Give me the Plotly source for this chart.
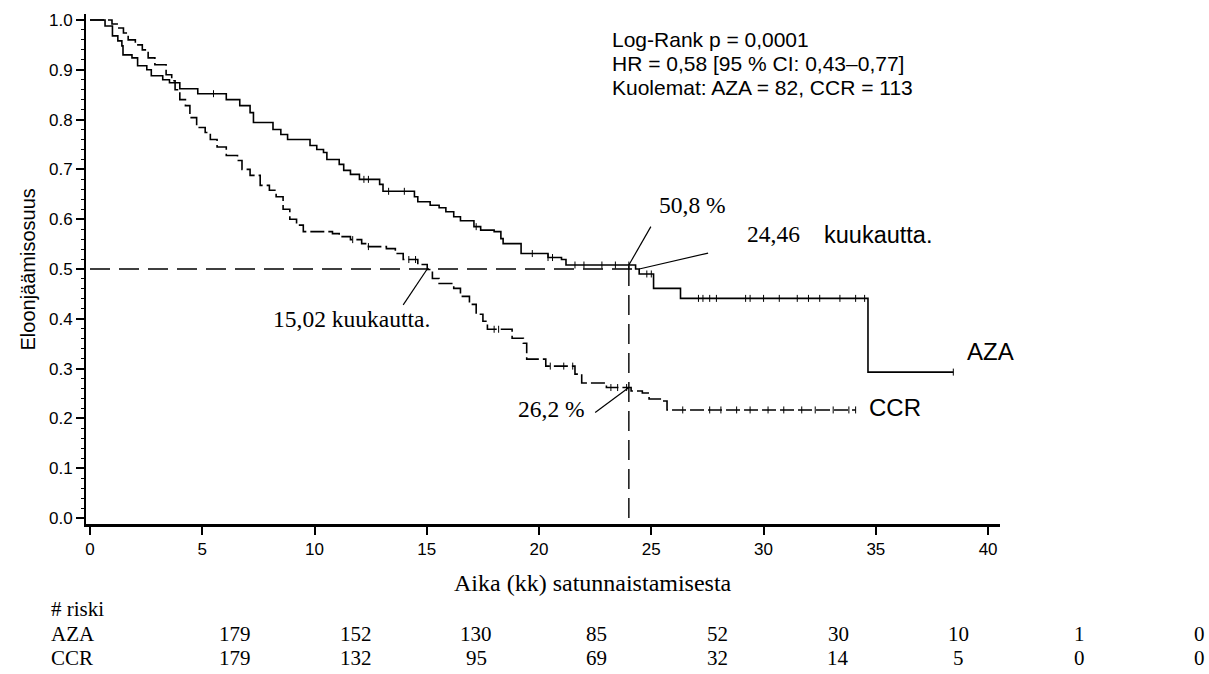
import numpy as np
import plotly.graph_objects as go

# ---------------- data ----------------
aza_t = [0, 0.67, 1.0, 1.24, 1.42, 1.47, 1.87, 2.12, 2.53, 2.73,
         3.24, 3.54, 4.0, 4.8, 6.07, 6.67, 7.13, 7.28, 8.15, 8.5,
         8.8, 9.8, 10.1, 10.4, 10.55, 11.1, 11.3, 11.6, 12.0, 12.9,
         13.05, 14.45, 14.6, 15.15, 15.55, 15.85, 16.2, 16.5, 17.1, 17.4,
         18.0, 18.3, 18.4, 19.2, 20.4, 21.0, 21.2, 24.3, 24.46, 25.1,
         26.3, 34.65]
aza_s = [1.0, 0.988, 0.968, 0.958, 0.948, 0.93, 0.924, 0.908, 0.90, 0.888,
         0.88, 0.874, 0.862, 0.852, 0.84, 0.828, 0.814, 0.794, 0.78, 0.77,
         0.76, 0.748, 0.74, 0.734, 0.72, 0.71, 0.698, 0.69, 0.68, 0.67,
         0.656, 0.645, 0.635, 0.628, 0.623, 0.615, 0.605, 0.597, 0.585, 0.578,
         0.575, 0.561, 0.551, 0.531, 0.523, 0.519, 0.508, 0.50, 0.49, 0.461,
         0.441, 0.293]
aza_end = 38.45

ccr_t = [0, 0.98, 1.21, 1.49, 1.7, 2.02, 2.33, 2.59, 2.89, 3.39,
         3.64, 3.79, 4.0, 4.25, 4.45, 4.75, 5.13, 5.36, 5.66, 6.07,
         6.57, 6.77, 7.13, 7.58, 7.99, 8.29, 8.6, 8.9, 9.2, 9.5,
         10.8, 11.1, 11.6, 12.1, 12.4, 13.2, 13.6, 13.95, 14.6, 15.02,
         15.25, 15.55, 16.2, 16.5, 16.9, 17.2, 17.5, 17.7, 18.8, 19.3,
         19.45, 20.3, 21.6, 21.9, 23.0, 24.1, 24.6, 24.9, 25.4, 25.7]
ccr_s = [1.0, 0.992, 0.984, 0.974, 0.96, 0.95, 0.94, 0.924, 0.91, 0.89,
         0.878, 0.86, 0.84, 0.828, 0.804, 0.784, 0.774, 0.76, 0.745, 0.728,
         0.718, 0.70, 0.688, 0.668, 0.658, 0.645, 0.62, 0.60, 0.588, 0.575,
         0.571, 0.565, 0.559, 0.551, 0.545, 0.541, 0.531, 0.519, 0.509, 0.499,
         0.481, 0.471, 0.461, 0.445, 0.429, 0.409, 0.395, 0.379, 0.361, 0.351,
         0.319, 0.305, 0.289, 0.271, 0.262, 0.255, 0.251, 0.239, 0.235, 0.217]
ccr_end = 34.1

aza_cens = [5.5, 12.2, 12.4, 13.3, 14.0, 17.2, 19.7, 20.4, 20.6, 21.6, 22.0,
            22.8, 23.4, 24.0, 24.8, 25.0, 27.1, 27.3, 27.6, 27.9, 29.2, 29.4,
            30.0, 30.7, 31.5, 32.0, 32.5, 33.4, 34.1, 34.5, 38.45]
ccr_cens = [11.7, 12.4, 14.2, 14.5, 18.0, 18.2, 20.5, 21.1, 21.5, 23.2, 23.5,
            23.9, 26.4, 27.6, 28.1, 28.8, 29.4, 30.2, 30.9, 31.7, 32.3, 33.1,
            33.8, 34.1]

median_aza = 24.46
median_ccr = 15.02
landmark = 24.0
surv24_aza = 0.508
surv24_ccr = 0.262

risk_times = [0, 5, 10, 15, 20, 25, 30, 35, 40]
risk_aza = [179, 152, 130, 85, 52, 30, 10, 1, 0]
risk_ccr = [179, 132, 95, 69, 32, 14, 5, 0, 0]

stats_lines = ["Log-Rank p = 0,0001",
               "HR = 0,58 [95 % CI: 0,43\u20130,77]",
               "Kuolemat: AZA = 82, CCR = 113"]

# ---------------- helpers ----------------
SERIF = "Liberation Serif, Times New Roman, serif"
SANS = "Liberation Sans, Arial, sans-serif"


def step_at(times, surv, x):
    t = np.asarray(times)
    s = np.asarray(surv)
    idx = np.searchsorted(t, np.asarray(x), side="right") - 1
    return s[idx]


fig = go.Figure()

# KM curves
fig.add_trace(go.Scatter(x=aza_t + [aza_end], y=aza_s + [aza_s[-1]],
                         mode="lines", line=dict(shape="hv", color="black", width=1.6),
                         name="AZA", showlegend=False))
fig.add_trace(go.Scatter(x=ccr_t + [ccr_end], y=ccr_s + [ccr_s[-1]],
                         mode="lines", line=dict(shape="hv", color="black", width=1.6,
                                                 dash="14px,4px"),
                         name="CCR", showlegend=False))
# censor marks
fig.add_trace(go.Scatter(x=aza_cens, y=step_at(aza_t, aza_s, aza_cens), mode="markers",
                         marker=dict(symbol="line-ns", size=5, line=dict(width=1, color="black")),
                         showlegend=False, hoverinfo="skip"))
fig.add_trace(go.Scatter(x=ccr_cens, y=step_at(ccr_t, ccr_s, ccr_cens), mode="markers",
                         marker=dict(symbol="line-ns", size=5, line=dict(width=1, color="black")),
                         showlegend=False, hoverinfo="skip"))

# reference lines (median / landmark)
fig.add_shape(type="line", x0=0, x1=median_aza, y0=0.5, y1=0.5,
              line=dict(color="black", width=1.4, dash="20px,9px"))
fig.add_shape(type="line", x0=landmark, x1=landmark, y0=0, y1=surv24_aza,
              line=dict(color="black", width=1.4, dash="20px,9px"))

# leader lines from labels to the marked points
leaders = [
    ((13.95, 0.428), (median_ccr, 0.5)),
    ((24.98, 0.585), (landmark, surv24_aza)),
    ((27.53, 0.532), (median_aza, 0.5)),
    ((22.5, 0.212), (landmark, surv24_ccr)),
]
for (xa, ya), (xb, yb) in leaders:
    fig.add_shape(type="line", x0=xa, y0=ya, x1=xb, y1=yb,
                  line=dict(color="black", width=1.2))

ann = []


def add_text(text, x, y, font, size, xanchor="center", xref="x", yref="y", angle=0):
    ann.append(dict(text=text, x=x, y=y, xref=xref, yref=yref, showarrow=False,
                    xanchor=xanchor, yanchor="middle", textangle=angle,
                    font=dict(family=font, size=size, color="black")))


add_text("15,02 kuukautta.", 11.63, 0.399, SERIF, 23.5)
add_text("50,8 %", 26.84, 0.628, SERIF, 23.5)
add_text("24,46", 30.42, 0.571, SERIF, 23.5)
add_text("kuukautta.", 35.08, 0.568, SANS, 23.5)
add_text("26,2 %", 20.54, 0.219, SERIF, 23.5)
add_text("AZA", 38.98, 0.335, SANS, 24, xanchor="left")
add_text("CCR", 34.6, 0.222, SANS, 24, xanchor="left")

for i, line in enumerate(stats_lines):
    add_text(line, 23.16, 0.960 - 0.048 * i, SANS, 21, xanchor="left")

# axis titles and risk table (as paper annotations)
W, H = 1209, 674
L, R, T, B = 86, 209, 11, 150
pw, ph = W - L - R, H - T - B


def px(xpix):
    return (xpix - L) / pw


def py(ypix):
    return (H - B - ypix) / ph


add_text("Aika (kk) satunnaistamisesta", px(593), py(583), SERIF, 24,
         xref="paper", yref="paper")
add_text("Eloonjäämisosuus", px(28), py(268), SANS, 20,
         xref="paper", yref="paper", angle=-90)

add_text("# riski", px(49), py(610), SERIF, 21, xanchor="left", xref="paper", yref="paper")
add_text("AZA", px(49), py(635), SERIF, 21, xanchor="left", xref="paper", yref="paper")
add_text("CCR", px(49), py(659), SERIF, 21, xanchor="left", xref="paper", yref="paper")
col0, colstep = 235, 120.6
for i, t in enumerate(risk_times):
    cx = col0 + colstep * i
    add_text(str(risk_aza[i]), px(cx), py(635), SERIF, 21, xref="paper", yref="paper")
    add_text(str(risk_ccr[i]), px(cx), py(659), SERIF, 21, xref="paper", yref="paper")

fig.update_layout(
    width=W, height=H, autosize=False,
    margin=dict(l=L, r=R, t=T, b=B, pad=0),
    paper_bgcolor="white", plot_bgcolor="white",
    annotations=ann,
    showlegend=False,
)
fig.update_xaxes(range=[-0.178, 40.53], tickmode="array", tickvals=risk_times,
                 ticktext=[str(t) for t in risk_times],
                 showline=True, linecolor="black", linewidth=2.5,
                 ticks="outside", ticklen=8, tickwidth=1.5, tickcolor="black",
                 showgrid=False, zeroline=False,
                 tickfont=dict(family=SANS, size=17, color="black"))
fig.update_yaxes(range=[-0.012, 1.012], tickmode="linear", tick0=0, dtick=0.1,
                 tickformat=".1f",
                 showline=True, linecolor="black", linewidth=2,
                 ticks="outside", ticklen=8, tickwidth=1.5, tickcolor="black",
                 minor=dict(dtick=0.02, ticks="outside", ticklen=3, tickwidth=1.2,
                            tickcolor="black", showgrid=False),
                 showgrid=False, zeroline=False,
                 tickfont=dict(family=SANS, size=17, color="black"))

fig.write_html("out.html",
               config={"displayModeBar": False},
               post_script="document.body.style.margin='0';"
                           "document.body.style.overflow='hidden';")
